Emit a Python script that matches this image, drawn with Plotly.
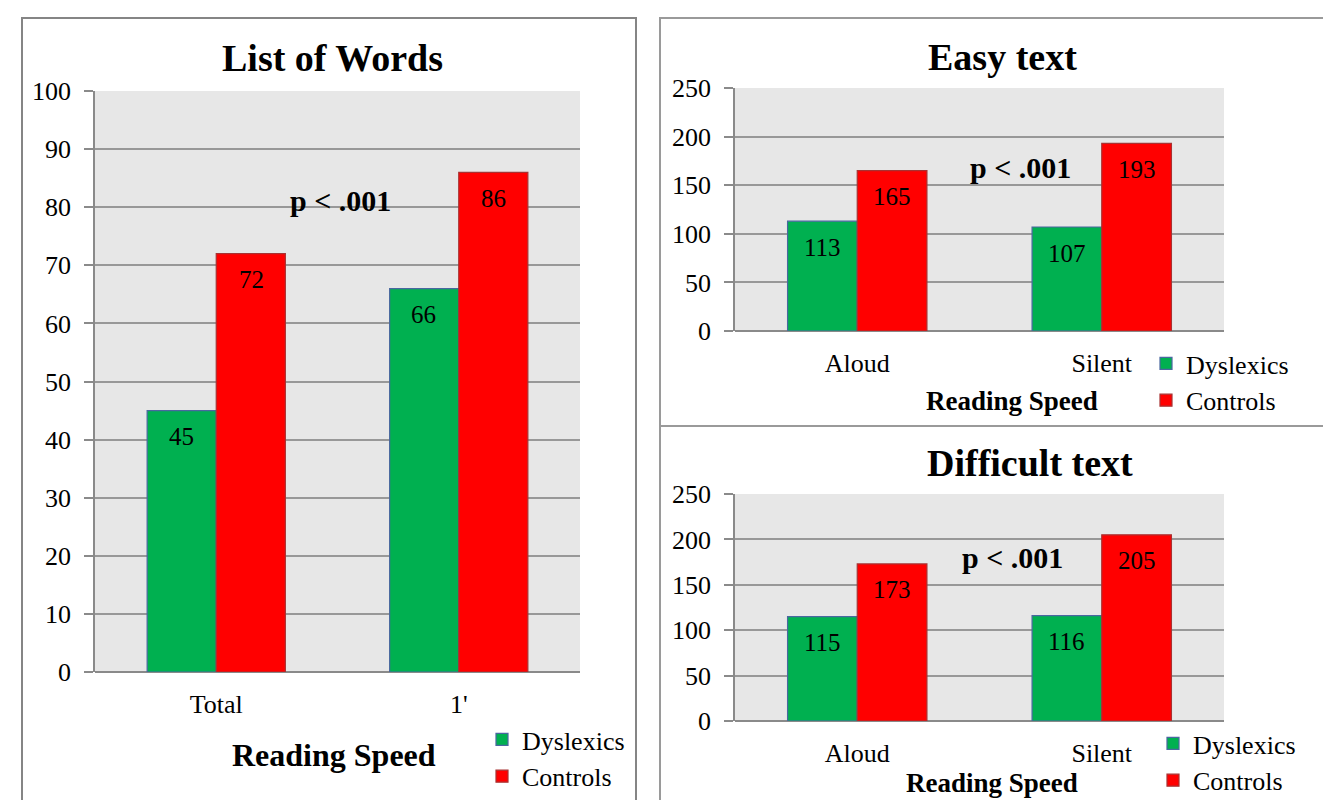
import plotly.graph_objects as go

# ---- data ----
word_categories = ["Total", "1'"]
word_dyslexics = [45, 66]
word_controls = [72, 86]

text_categories = ["Aloud", "Silent"]
easy_dyslexics = [113, 107]
easy_controls = [165, 193]
difficult_dyslexics = [115, 116]
difficult_controls = [173, 205]

word_ticks = list(range(0, 101, 10))
text_ticks = list(range(0, 251, 50))

W, H = 1323, 800
FONT = "Liberation Serif"
GREEN = "#00b050"
RED = "#ff0000"
GREEN_EDGE = "#4a67a0"
RED_EDGE = "#a83232"
GRID = "#989898"
BG = "#e7e7e7"


def px(x):
    return x / W


def py(y):
    return 1 - y / H


fig = go.Figure()

panels = [
    # (xaxis, yaxis, legend, categories, dyslexics, controls)
    ("x", "y", "legend", word_categories, word_dyslexics, word_controls),
    ("x2", "y2", "legend2", text_categories, easy_dyslexics, easy_controls),
    ("x3", "y3", "legend3", text_categories, difficult_dyslexics, difficult_controls),
]

annotations = []
for xa, ya, lg, cats, dys, ctl in panels:
    fig.add_trace(go.Bar(
        x=cats, y=dys, name="Dyslexics", xaxis=xa, yaxis=ya, legend=lg,
        marker=dict(color=GREEN, line=dict(color=GREEN_EDGE, width=1.2)),
        hoverinfo="skip",
    ))
    fig.add_trace(go.Bar(
        x=cats, y=ctl, name="Controls", xaxis=xa, yaxis=ya, legend=lg,
        marker=dict(color=RED, line=dict(color=RED_EDGE, width=1.2)),
        hoverinfo="skip",
    ))
    # value labels just inside the top of each bar
    for series, shift in ((dys, -35), (ctl, 35)):
        for c, v in zip(cats, series):
            annotations.append(dict(
                x=c, y=v, xref=xa, yref=ya, text=str(v), showarrow=False,
                xshift=shift, yshift=-26, yanchor="middle",
                font=dict(family=FONT, size=25, color="black"),
            ))

axis_common = dict(showgrid=False, showline=False, ticks="",
                   tickfont=dict(family=FONT, size=26, color="black"),
                   ticklabelstandoff=14, fixedrange=True)
yaxis_common = dict(showgrid=True, gridcolor=GRID, gridwidth=1.5,
                    showline=True, linecolor="#8a8a8a", linewidth=1.5,
                    ticks="outside", ticklen=9, tickcolor="#8a8a8a", tickwidth=1.5,
                    tickfont=dict(family=FONT, size=26, color="black"),
                    ticklabelstandoff=8, zeroline=True, zerolinecolor="#8a8a8a",
                    zerolinewidth=1.5, fixedrange=True)

fig.update_layout(
    xaxis=dict(domain=[px(95), px(580)], anchor="y", **axis_common),
    yaxis=dict(domain=[py(672), py(91)], anchor="x", range=[0, 100],
               tickvals=word_ticks, **yaxis_common),
    xaxis2=dict(domain=[px(735), px(1224)], anchor="y2", **axis_common),
    yaxis2=dict(domain=[py(331), py(88)], anchor="x2", range=[0, 250],
                tickvals=text_ticks, **yaxis_common),
    xaxis3=dict(domain=[px(735), px(1224)], anchor="y3", **axis_common),
    yaxis3=dict(domain=[py(721), py(494)], anchor="x3", range=[0, 250],
                tickvals=text_ticks, **yaxis_common),
)

legend_common = dict(font=dict(family=FONT, size=26, color="black"),
                     bgcolor="rgba(0,0,0,0)", orientation="v",
                     xanchor="left", yanchor="top", tracegroupgap=0,
                     itemwidth=30)
fig.update_layout(
    legend=dict(x=px(482), y=py(716), **legend_common),
    legend2=dict(x=px(1146), y=py(340), **legend_common),
    legend3=dict(x=px(1153), y=py(720), **legend_common),
)

# titles, axis titles and significance labels
texts = [
    ("List of Words", 332, 58, 38),
    ("Easy text", 1002, 57, 38),
    ("Difficult text", 1030, 463, 38),
    ("Reading Speed", 334, 755, 32),
    ("Reading Speed", 1012, 401, 27),
    ("Reading Speed", 992, 783, 27),
    ("p < .001", 341, 200, 30),
    ("p < .001", 1020, 168, 30),
    ("p < .001", 1013, 557, 30),
]
for t, x, y, s in texts:
    annotations.append(dict(
        x=px(x), y=py(y), xref="paper", yref="paper", text=f"<b>{t}</b>",
        showarrow=False, xanchor="center", yanchor="middle",
        font=dict(family=FONT, size=s, color="black"),
    ))

# panel frames
shapes = [
    dict(type="rect", xref="paper", yref="paper",
         x0=px(22), x1=px(636), y0=py(830), y1=py(18),
         line=dict(color="#858585", width=2)),
    dict(type="rect", xref="paper", yref="paper",
         x0=px(660), x1=px(1340), y0=py(830), y1=py(18),
         line=dict(color="#9a9a9a", width=2)),
    dict(type="line", xref="paper", yref="paper",
         x0=px(660), x1=px(1340), y0=py(426), y1=py(426),
         line=dict(color="#9a9a9a", width=2)),
]

fig.update_layout(
    width=W, height=H,
    margin=dict(l=0, r=0, t=0, b=0, autoexpand=False),
    paper_bgcolor="white", plot_bgcolor=BG,
    barmode="group", bargap=0.43, bargroupgap=0,
    annotations=annotations, shapes=shapes,
    font=dict(family=FONT, color="black"),
)

fig.write_html("out.html")
